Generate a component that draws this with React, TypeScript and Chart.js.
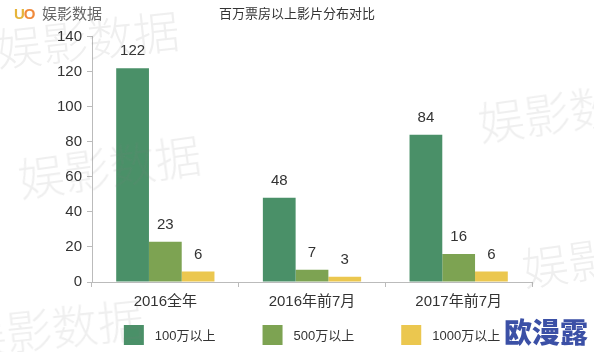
import React, { useEffect, useRef } from "react";
import { Chart, registerables } from "chart.js";

Chart.register(...registerables);

const categories = ["2016全年", "2016年前7月", "2017年前7月"];
const seriesNames = ["100万以上", "500万以上", "1000万以上"];
const over100 = [122, 48, 84];
const over500 = [23, 7, 16];
const over1000 = [6, 3, 6];
const yTicks = [0, 20, 40, 60, 80, 100, 120, 140];
const title = "百万票房以上影片分布对比";
const colors = ["#4a9068", "#7da352", "#ebc74f"];

const FONT = "'Liberation Sans', Arial, 'Noto Sans CJK SC', sans-serif";

const valueLabels = {
  id: "valueLabels",
  afterDatasetsDraw(chart: any) {
    const ctx = chart.ctx;
    ctx.save();
    ctx.font = `15px ${FONT}`;
    ctx.fillStyle = "#333";
    ctx.textAlign = "center";
    ctx.textBaseline = "middle";
    chart.data.datasets.forEach((ds: any, i: number) => {
      const meta = chart.getDatasetMeta(i);
      meta.data.forEach((bar: any, j: number) => {
        ctx.fillText(String(ds.data[j]), bar.x, bar.y - 17);
      });
    });
    ctx.restore();
  },
};

const bottomLegend = {
  id: "bottomLegend",
  afterDraw(chart: any) {
    const ctx = chart.ctx;
    const box = 20;
    const gapText = 11;
    const gapItem = 47;
    ctx.save();
    ctx.font = `13px ${FONT}`;
    const items = chart.data.datasets.map((ds: any) => ({
      label: ds.label,
      color: ds.backgroundColor,
      w: box + gapText + ctx.measureText(ds.label).width,
    }));
    const total = items.reduce((a: number, it: any) => a + it.w, 0) + gapItem * (items.length - 1);
    const ca = chart.chartArea;
    let x = (ca.left + ca.right) / 2 - total / 2;
    const cy = chart.height - 17;
    ctx.textBaseline = "middle";
    ctx.textAlign = "left";
    items.forEach((it: any) => {
      ctx.fillStyle = it.color;
      ctx.fillRect(x, cy - box / 2, box, box);
      ctx.fillStyle = "#333";
      ctx.fillText(it.label, x + box + gapText, cy + 1);
      x += it.w + gapItem;
    });
    ctx.restore();
  },
};

const marks = [
  { text: "娱影数据", left: -4, top: 22, size: 46, rot: -6 },
  { text: "娱影数据", left: 18, top: 152, size: 46, rot: -8 },
  { text: "娱影数据", left: 478, top: 96, size: 46, rot: -8 },
  { text: "娱影数据", left: 522, top: 242, size: 46, rot: -8 },
  { text: "娱影数据", left: -40, top: 310, size: 46, rot: -6 },
];

export default function App() {
  const ref = useRef<HTMLCanvasElement>(null);
  useEffect(() => {
    const chart = new Chart(ref.current!, {
      type: "bar",
      data: {
        labels: categories,
        datasets: [over100, over500, over1000].map((d, i) => ({
          label: seriesNames[i],
          data: d,
          backgroundColor: colors[i],
          borderWidth: 0,
          categoryPercentage: 0.67,
          barPercentage: 1.0,
        })),
      },
      options: {
        animation: false,
        responsive: false,
        maintainAspectRatio: false,
        layout: { padding: { left: 0, right: 0, top: 0, bottom: 35 } },
        plugins: {
          title: {
            display: true,
            text: title,
            color: "#333",
            font: { size: 13, family: FONT, weight: "normal" },
            padding: { top: 7, bottom: 14 },
          },
          legend: { display: false },
          tooltip: { enabled: false },
        },
        scales: {
          x: {
            grid: {
              display: true,
              drawOnChartArea: false,
              tickLength: 5,
              color: "#bbb",
              offset: true,
            },
            border: { color: "#bbb" },
            ticks: { color: "#333", font: { size: 15, family: FONT }, padding: 6 },
          },
          y: {
            min: 0,
            max: 140,
            afterFit: (s: any) => {
              s.width = 92;
            },
            afterBuildTicks: (s: any) => {
              s.ticks = yTicks.map((v) => ({ value: v }));
            },
            grid: {
              display: true,
              drawOnChartArea: false,
              tickLength: 5,
              color: "#bbb",
            },
            border: { color: "#bbb" },
            ticks: { color: "#333", font: { size: 15, family: FONT }, padding: 5 },
          },
          spacer: {
            type: "linear",
            position: "right",
            display: true,
            afterFit: (s: any) => {
              s.width = 62;
            },
            grid: { display: false },
            border: { display: false },
            ticks: { display: false },
          },
        },
      },
      plugins: [valueLabels, bottomLegend],
    });
    return () => chart.destroy();
  }, []);
  return (
    <div style={{ position: "fixed", left: 0, top: 0, width: 594, height: 352, background: "#fff", overflow: "hidden" }}>
      <canvas ref={ref} width={594} height={352} style={{ position: "absolute", left: 0, top: 0 }} />
      {marks.map((m, i) => (
        <div
          key={i}
          style={{
            position: "absolute",
            left: m.left,
            top: m.top,
            fontFamily: "'Noto Sans CJK SC', sans-serif",
            fontWeight: 300,
            fontSize: m.size,
            lineHeight: `${m.size + 4}px`,
            color: "rgba(120,120,120,0.12)",
            whiteSpace: "nowrap",
            transform: `rotate(${m.rot}deg)`,
            transformOrigin: "left center",
            pointerEvents: "none",
          }}
        >
          {m.text}
        </div>
      ))}
      <div style={{ position: "absolute", left: 14, top: 6, fontFamily: FONT, fontWeight: 700, fontSize: 15, lineHeight: "16px", letterSpacing: -1 }}>
        <span style={{ color: "#e6b43a" }}>U</span>
        <span style={{ color: "#f08a3c" }}>O</span>
      </div>
      <div style={{ position: "absolute", left: 42, top: 3, fontFamily: "'Noto Sans CJK SC', sans-serif", fontSize: 15, color: "#666", lineHeight: "20px" }}>
        娱影数据
      </div>
      <div style={{ position: "absolute", left: 504, top: 314, fontFamily: "'Noto Sans CJK SC', sans-serif", fontWeight: 900, fontSize: 28, color: "#3b50a6", lineHeight: "34px" }}>
        欧漫露
      </div>
    </div>
  );
}
